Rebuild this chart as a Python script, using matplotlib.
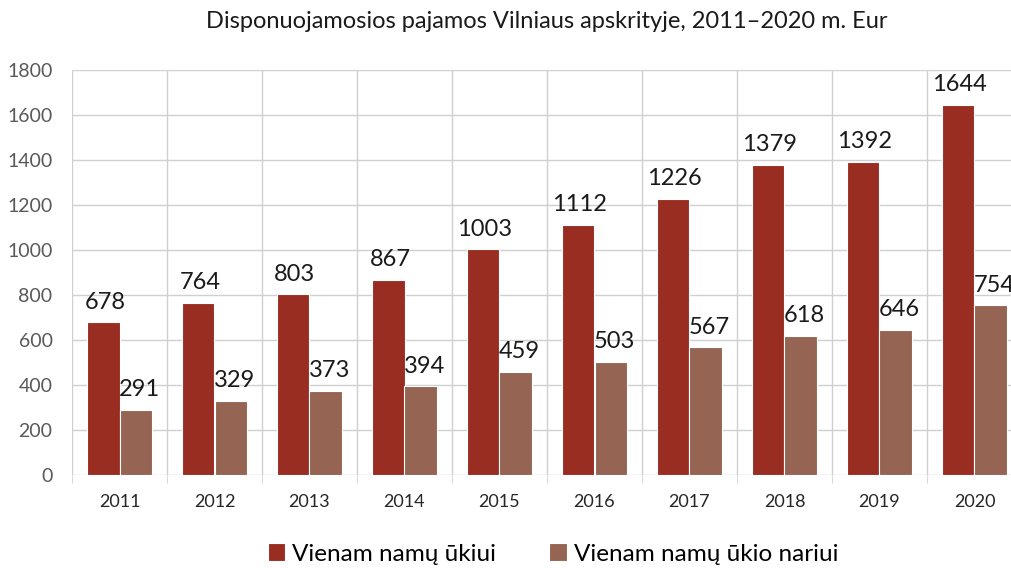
import matplotlib.pyplot as plt
import numpy as np

years = ['2011', '2012', '2013', '2014', '2015', '2016', '2017', '2018', '2019', '2020']
per_household = [678, 764, 803, 867, 1003, 1112, 1226, 1379, 1392, 1644]
per_member = [291, 329, 373, 394, 459, 503, 567, 618, 646, 754]

plt.rcParams['font.family'] = ['Lato', 'DejaVu Sans']

fig = plt.figure(figsize=(10.12, 5.68), dpi=100)
ax = fig.add_axes([72/1012, 93/568, 950/1012, 405/568])

x = np.arange(len(years))
w = 0.337
dark = '#992d22'
light = '#956453'

b1 = ax.bar(x - w/2, per_household, w, color=dark, edgecolor='white', linewidth=0.8,
            label='Vienam namų ūkiui', zorder=3)
b2 = ax.bar(x + w/2, per_member, w, color=light, edgecolor='white', linewidth=0.8,
            label='Vienam namų ūkio nariui', zorder=3)

# reikšmės virš stulpelių
for xi, v in zip(x, per_household):
    ax.annotate(str(v), (xi - w/2, v), xytext=(1, 7), textcoords='offset points',
                ha='center', va='bottom', fontsize=17, color='#1a1a1a')
for xi, v in zip(x, per_member):
    ax.annotate(str(v), (xi + w/2, v), xytext=(3, 7), textcoords='offset points',
                ha='center', va='bottom', fontsize=17, color='#1a1a1a')

ax.set_xlim(-0.5, len(years) - 0.5)
ax.set_ylim(0, 1800)
ax.set_yticks(np.arange(0, 1801, 200))
ax.set_xticks(x)
ax.set_xticklabels(years, fontsize=13, color='#262626')
ax.set_xticks(np.arange(-0.5, len(years), 1), minor=True)

for s in ax.spines.values():
    s.set_visible(False)
ax.grid(axis='y', color='#d0d0d0', linewidth=1, zorder=0)
ax.grid(axis='x', which='minor', color='#d0d0d0', linewidth=1, zorder=0)
ax.tick_params(axis='x', which='major', length=0, pad=14)
ax.tick_params(axis='x', which='minor', length=6, color='#d0d0d0')
ax.tick_params(axis='y', length=0, pad=14, labelsize=14, labelcolor='#595959')

fig.text(547/1012, 1 - 22/568, 'Disponuojamosios pajamos Vilniaus apskrityje, 2011–2020 m. Eur',
         ha='center', va='center', fontsize=17, color='#1a1a1a')

fig.legend(handles=[b1, b2], loc='center', bbox_to_anchor=(553/1012, 1 - 554/568),
           ncol=2, frameon=False, fontsize=17.5, handlelength=0.7, handleheight=0.7,
           handletextpad=0.3, columnspacing=2.2)

fig.savefig('out.png', dpi=100)
